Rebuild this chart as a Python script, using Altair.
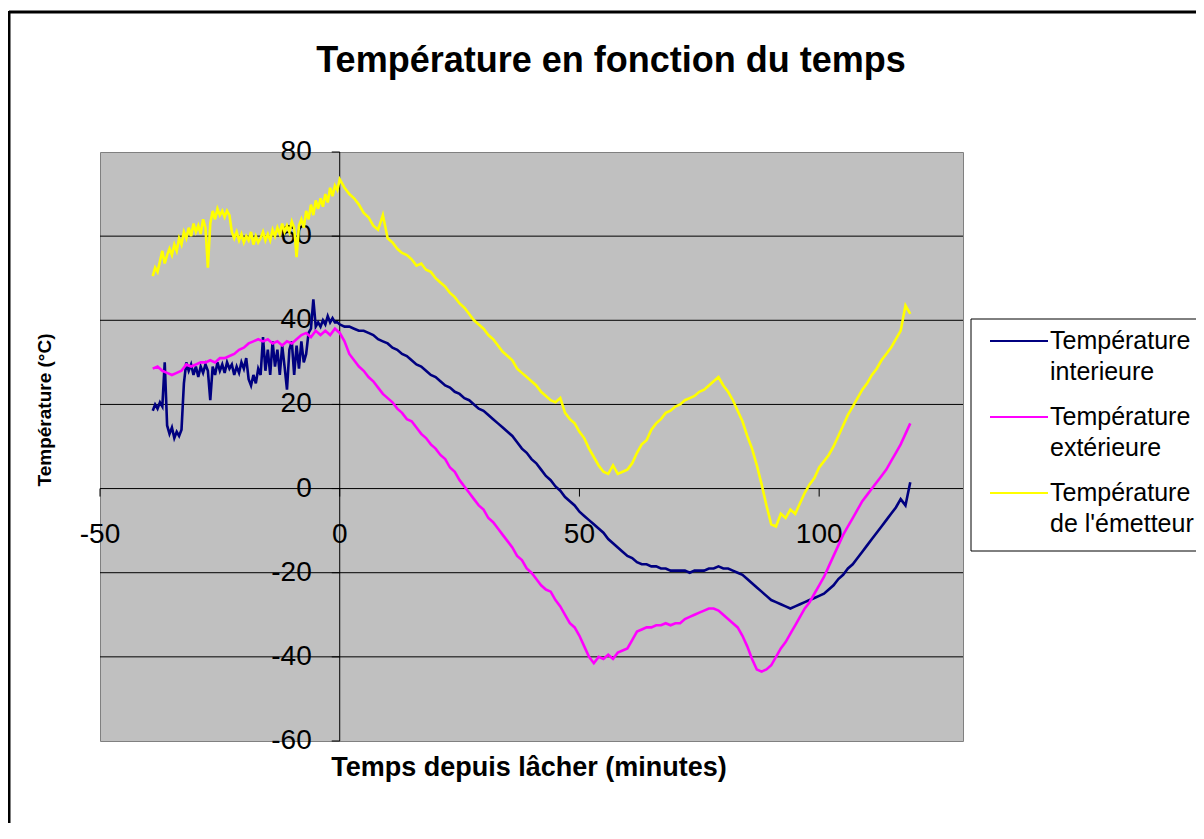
import altair as alt
import pandas as pd

# ---------------- data ----------------
SERIES = ["Température interieure", "Température extérieure", "Température de l'émetteur"]
COLORS = ["#000080", "#FF00FF", "#FFFF00"]
LEGEND_TEXT = ["Température\ninterieure", "Température\nextérieure", "Température\nde l'émetteur"]

Y_TICKS = [80, 60, 40, 20, 0, -20, -40, -60]
Y_TICK_LABELS = ["80", "60", "40", "20", "0", "-20", "-40", "-60"]
X_TICKS = [-50, 0, 50, 100]
X_TICK_LABELS = ["-50", "0", "50", "100"]

# before release: samples every 0.5 min from -39 to 0
interieure_pre = [
    18.5, 20, 19, 20.5, 19.5, 30, 15, 13, 14.5, 12,
    13.5, 12.5, 14, 25, 30, 28, 29.5, 27, 29, 26.5,
    29, 27.5, 29.5, 28, 21, 29, 27, 30, 28, 29.5,
    27.5, 30, 28.5, 29.5, 27, 29, 27.5, 30, 28.5, 31,
    26, 24.5, 27, 25, 28.5, 27, 36, 28, 33, 27,
    35, 29, 33, 27, 34, 29, 23.5, 33, 35, 27,
    34, 28.5, 35, 30, 32, 37, 38, 45, 38.5, 39.5,
    38.5, 40, 39, 41, 39.5, 40.5, 39.5, 39.5, 39,
]
# after release: every minute from 1 to 119
interieure_post = [
    38.5, 38.5, 38, 37.5, 37.5, 37, 36.5, 35.5, 35, 34.5,
    33.5, 33, 32, 31.5, 30.5, 29.5, 29, 28, 27, 26.5,
    25.5, 24.5, 24, 23, 22.5, 21.5, 21, 20, 19, 18.5,
    17.5, 16.5, 15.5, 14.5, 13.5, 12.5, 11, 9.5, 8.5, 7,
    6, 4.5, 3, 2, 0.5, -0.5, -2, -3, -4, -5.5,
    -6.5, -7.5, -8.5, -9.5, -10.5, -12, -13, -14, -15, -16,
    -16.5, -17.5, -18, -18, -18.5, -18.5, -19, -19, -19.5, -19.5,
    -19.5, -19.5, -20, -19.5, -19.5, -19.5, -19, -19, -18.5, -19,
    -19, -19.5, -20, -20.5, -21.5, -22.5, -23.5, -24.5, -25.5, -26.5,
    -27, -27.5, -28, -28.5, -28, -27.5, -27, -26.5, -26, -25.5,
    -25, -24, -23, -21.5, -20.5, -19, -18, -16.5, -15, -13.5,
    -12, -10.5, -9, -7.5, -6, -4.5, -2.5, -4, 1.5,
]

# before release: every minute from -39 to 0
exterieure_pre = [
    28.5, 29, 28, 27.5, 27, 27.5, 28, 29.5, 29, 29.5,
    30, 30, 30.5, 30, 31, 31, 31.5, 32, 33, 33.5,
    34.5, 35, 35.5, 35, 35.5, 34.5, 35, 34, 35, 34.5,
    35.5, 36.5, 37, 36, 37.5, 36.5, 37.5, 36.5, 38, 37,
]
exterieure_post = [
    35, 32, 30.5, 29, 28, 26.5, 25.5, 24, 22.5, 21.5,
    20.5, 19, 18, 16.5, 16, 14.5, 13, 12, 10.5, 9.5,
    8, 7, 5, 4, 2, 0.5, -1, -2.5, -4, -5,
    -7, -8, -9.5, -11, -12.5, -14, -16, -17, -19, -20,
    -21.5, -23, -24, -24.5, -26.5, -28, -30, -32, -33, -35,
    -37.5, -40, -41.5, -40, -40.5, -39.5, -40.5, -39, -38.5, -38,
    -36, -34, -33.5, -33, -33, -32.5, -32.5, -32, -32.5, -32,
    -32, -31, -30.5, -30, -29.5, -29, -28.5, -28.5, -29, -30,
    -31, -32, -33, -35, -37.5, -40.5, -43, -43.5, -43, -42,
    -40, -38, -36.5, -34.5, -32.5, -30.5, -28.5, -27, -25, -23,
    -21, -18.5, -16, -13.5, -11, -9, -7, -5, -3, -1.5,
    0, 1.5, 3, 4.5, 6.5, 8.5, 10.5, 13, 15.5,
]

# before release: every 0.5 min from -39 to 0
emetteur_pre = [
    50.5, 52.5, 51.5, 54, 56.5, 53.5, 55.5, 57, 55.5, 58,
    56.5, 59.5, 58, 61, 59.5, 62, 60, 63, 61, 62.5,
    60.5, 64, 62, 52.5, 63, 66, 64, 66.5, 65, 66,
    64.5, 66, 65, 61, 59.5, 61, 59, 60.5, 58.5, 60,
    59, 61, 58, 60, 58.5, 59.5, 61, 59, 60.5, 59,
    61.5, 60, 62, 60.5, 63, 61, 62.5, 61, 63.5, 62,
    55, 62.5, 64, 62, 66, 64, 67.5, 65, 68.5, 66.5,
    69, 67, 70, 68, 71.5, 69.5, 72, 71, 73.5,
]
emetteur_post = [
    71.5, 70, 69, 67.5, 65.5, 64.5, 62.5, 61.5, 65, 59.5,
    58.5, 57, 56, 55.5, 54.5, 53, 53.5, 52, 51.5, 50,
    49, 48, 46.5, 45.5, 44, 43, 41.5, 40, 39, 38,
    36.5, 35.5, 34, 32.5, 31.5, 30.5, 28.5, 27.5, 26.5, 25.5,
    24.5, 23, 22, 21, 20.5, 21.5, 18, 16.5, 15.5, 13.5,
    12, 9.5, 7.5, 5.5, 4, 3.5, 5.5, 3.5, 4, 4.5,
    6, 8.5, 10.5, 11.5, 14, 15.5, 16.5, 18, 18.5, 19.5,
    20, 21, 21.5, 22, 23, 23.5, 24.5, 25.5, 26.5, 24.5,
    23, 21, 18.5, 16, 12.5, 9.5, 5.5, 1, -4, -8.5,
    -9, -6, -7, -5, -6, -3.5, -1, 1, 2.5, 5,
    6.5, 8, 10, 12.5, 15, 17.5, 19.5, 21.5, 23.5, 25,
    27, 28.5, 30.5, 32, 33.5, 35.5, 37.5, 43.5, 41.5,
]


def times(start, step, n):
    return [start + i * step for i in range(n)]


def series_frame(pre, pre_step, post):
    t = times(-39, pre_step, len(pre)) + times(1, 1, len(post))
    return pd.DataFrame({"t": t, "T": pre + post})


frames = [
    series_frame(interieure_pre, 0.5, interieure_post),
    series_frame(exterieure_pre, 1, exterieure_post),
    series_frame(emetteur_pre, 0.5, emetteur_post),
]

# ---------------- chart ----------------
W, H = 863, 589
xs = alt.Scale(domain=[-50, 130], nice=False, zero=False)
ys = alt.Scale(domain=[-60, 80], nice=False, zero=False)
FONT = "Liberation Sans"

one = pd.DataFrame({"a": [0]})

# outer frame of the chart area (only top and left sides are visible in the picture)
frame_top = alt.Chart(one).mark_rule(color="black", strokeWidth=3).encode(
    x=alt.value(-91), x2=alt.value(1150), y=alt.value(-140)
)
frame_left = alt.Chart(one).mark_rule(color="black", strokeWidth=3).encode(
    x=alt.value(-91), y=alt.value(-141), y2=alt.value(760)
)

grid_df = pd.DataFrame({"v": [v for v in Y_TICKS if v not in (Y_TICKS[0], Y_TICKS[-1])]})
grid = alt.Chart(grid_df).mark_rule(color="black", strokeWidth=1).encode(
    y=alt.Y("v:Q", scale=ys, axis=None)
)

yaxis = alt.Chart(pd.DataFrame({"v": [0]})).mark_rule(color="black", strokeWidth=1).encode(
    x=alt.X("v:Q", scale=xs, axis=None)
)

ytick_df = pd.DataFrame({"v": Y_TICKS, "lab": Y_TICK_LABELS, "zero": 0})
yticks = alt.Chart(ytick_df).mark_rule(color="black", strokeWidth=1, xOffset=-8).encode(
    x=alt.X("zero:Q", scale=xs, axis=None), x2="zero:Q", y=alt.Y("v:Q", scale=ys, axis=None)
)
ylabels = alt.Chart(ytick_df).mark_text(
    align="right", baseline="middle", dx=-28, fontSize=28, font=FONT, color="black"
).encode(x=alt.X("zero:Q", scale=xs, axis=None), y=alt.Y("v:Q", scale=ys, axis=None), text="lab:N")

xtick_df = pd.DataFrame({"v": X_TICKS, "lab": X_TICK_LABELS, "zero": 0})
xticks = alt.Chart(xtick_df).mark_rule(color="black", strokeWidth=1, y2Offset=8).encode(
    x=alt.X("v:Q", scale=xs, axis=None), y=alt.Y("zero:Q", scale=ys, axis=None), y2="zero:Q"
)
xlabels = alt.Chart(xtick_df).mark_text(
    align="center", baseline="middle", dy=46, fontSize=28, font=FONT, color="black"
).encode(x=alt.X("v:Q", scale=xs, axis=None), y=alt.Y("zero:Q", scale=ys, axis=None), text="lab:N")

lines = []
for df, col in zip(frames, COLORS):
    lines.append(
        alt.Chart(df).mark_line(color=col, strokeWidth=2.6, clip=True, strokeJoin="miter").encode(
            x=alt.X("t:Q", scale=xs, axis=None), y=alt.Y("T:Q", scale=ys, axis=None)
        )
    )

# legend (drawn by hand so labels can wrap)
leg_box = alt.Chart(one).mark_rect(fill="white", stroke="black", strokeWidth=1).encode(
    x=alt.value(871), x2=alt.value(1098), y=alt.value(167), y2=alt.value(399)
)
leg_df = pd.DataFrame({"name": SERIES, "col": COLORS, "txt": LEGEND_TEXT, "py": [189, 265, 341]})
leg_sym = alt.Chart(leg_df).mark_rule(strokeWidth=2).encode(
    x=alt.value(890), x2=alt.value(948), y=alt.Y("py:Q", scale=None), color=alt.Color("col:N", scale=None)
)
leg_txt = alt.Chart(leg_df).mark_text(
    align="left", baseline="middle", fontSize=25, font=FONT, color="black", lineBreak="\n", lineHeight=31
).encode(x=alt.value(950), y=alt.Y("py:Q", scale=None), text="txt:N")

title_df = pd.DataFrame({"txt": ["Température en fonction du temps"]})
title = alt.Chart(title_df).mark_text(
    align="center", baseline="middle", fontSize=36, fontWeight="bold", font=FONT, color="black"
).encode(x=alt.value(511), y=alt.value(-91), text="txt:N")

xt_df = pd.DataFrame({"txt": ["Temps depuis lâcher (minutes)"]})
xtitle = alt.Chart(xt_df).mark_text(
    align="center", baseline="middle", fontSize=27, fontWeight="bold", font=FONT, color="black"
).encode(x=alt.value(429), y=alt.value(616), text="txt:N")

yt_df = pd.DataFrame({"txt": ["Température (°C)"]})
ytitle = alt.Chart(yt_df).mark_text(
    align="center", baseline="middle", fontSize=19, fontWeight="bold", font=FONT, color="black", angle=270
).encode(x=alt.value(-55), y=alt.value(258), text="txt:N")

chart = alt.layer(
    frame_top, frame_left, grid, yaxis, yticks, xticks, ylabels, xlabels, *lines,
    leg_box, leg_sym, leg_txt, title, xtitle, ytitle
).properties(
    width=W, height=H,
    autosize=alt.AutoSizeParams(type="none"),
    padding={"left": 92, "top": 144, "right": 233, "bottom": 82},
    background="white",
).configure_view(
    fill="#C0C0C0", stroke="#808080", strokeWidth=1
)

chart.save("out.html", embed_options={"renderer": "svg", "actions": False})
